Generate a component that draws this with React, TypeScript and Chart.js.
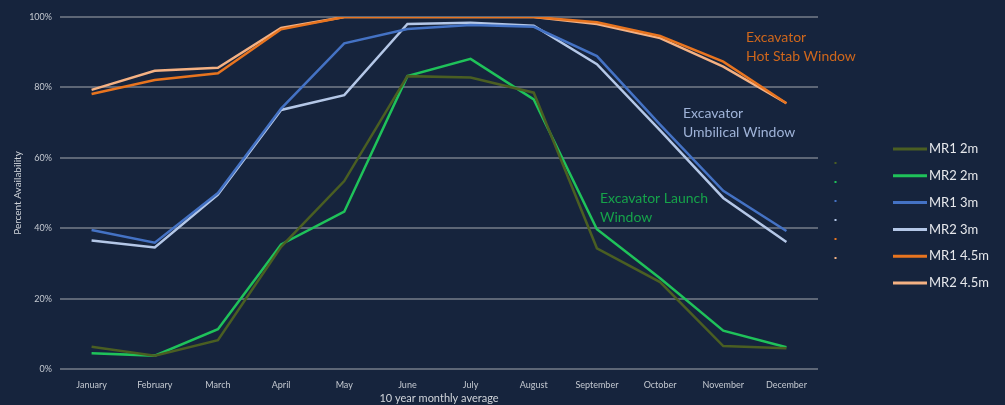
import React, { useEffect, useRef } from "react";
import { Chart, registerables } from "chart.js";

Chart.register(...registerables);

const months = ["January", "February", "March", "April", "May", "June", "July", "August", "September", "October", "November", "December"];
const seriesNames = ["MR1 2m", "MR2 2m", "MR1 3m", "MR2 3m", "MR1 4.5m", "MR2 4.5m"];
const mr1_2m = [6.3, 3.8, 8.2, 34.7, 53.4, 83.2, 82.8, 78.5, 34.3, 24.7, 6.5, 5.9];
const mr2_2m = [4.5, 3.8, 11.3, 35.4, 44.7, 83.2, 88.1, 76.6, 39.7, 25.8, 10.9, 6.2];
const mr1_3m = [39.5, 35.9, 50.0, 74.0, 92.5, 96.6, 97.7, 97.2, 88.9, 69.4, 50.6, 39.2];
const mr2_3m = [36.5, 34.5, 49.5, 73.6, 77.8, 98.0, 98.4, 97.5, 86.6, 67.8, 48.6, 36.1];
const mr1_45m = [78.1, 82.1, 84.0, 96.5, 100, 100, 100, 100, 98.5, 94.6, 87.3, 75.5];
const mr2_45m = [79.3, 84.7, 85.6, 96.9, 100, 100, 100, 100, 98.0, 94.0, 85.9, 75.5];
const yTicks = [0, 20, 40, 60, 80, 100];
const colors = ["#4a5e22", "#1fc25a", "#4472c4", "#b4c7e7", "#e8741f", "#f4b183"];
const annotations = [
  { lines: ["Excavator", "Hot Stab Window"], color: "#cf671c", x: 746, y: 37 },
  { lines: ["Excavator", "Umbilical Window"], color: "#9fb3d8", x: 683, y: 113 },
  { lines: ["Excavator Launch", "Window"], color: "#16a34a", x: 600, y: 198 },
];

const FONT = "Lato, 'Open Sans', sans-serif";

const bgPlugin = {
  id: "bg",
  beforeDraw(chart: any) {
    const { ctx, width, height } = chart;
    ctx.save();
    ctx.fillStyle = "#16243d";
    ctx.fillRect(0, 0, width, height);
    ctx.restore();
  },
};

const overlayPlugin = {
  id: "overlay",
  afterDraw(chart: any) {
    const ctx = chart.ctx;
    ctx.save();
    ctx.textBaseline = "middle";
    ctx.textAlign = "left";
    ctx.font = `14px ${FONT}`;
    annotations.forEach((a) => {
      ctx.fillStyle = a.color;
      a.lines.forEach((l, i) => ctx.fillText(l, a.x, a.y + i * 19));
    });
    ctx.font = `13px ${FONT}`;
    chart.data.datasets.forEach((ds: any, i: number) => {
      const y = 149 + i * 26.8;
      ctx.strokeStyle = ds.borderColor;
      ctx.lineWidth = 3;
      ctx.beginPath();
      ctx.moveTo(893, y);
      ctx.lineTo(927, y);
      ctx.stroke();
      ctx.fillStyle = "#e6e8ec";
      ctx.fillText(ds.label, 929, y);
      ctx.fillStyle = ds.borderColor;
      ctx.fillRect(834.5, 162 + i * 19, 2, 2);
    });
    ctx.restore();
  },
};

export default function App() {
  const ref = useRef<HTMLCanvasElement>(null);
  useEffect(() => {
    document.body.style.margin = "0";
    const data = [mr1_2m, mr2_2m, mr1_3m, mr2_3m, mr1_45m, mr2_45m];
    const chart = new Chart(ref.current!, {
      type: "line",
      data: {
        labels: months,
        datasets: data.map((d, i) => ({
          label: seriesNames[i],
          data: d,
          borderColor: colors[i],
          backgroundColor: colors[i],
          borderWidth: 2.5,
          pointRadius: 0,
          tension: 0,
        })),
      },
      options: {
        responsive: false,
        animation: false,
        layout: { padding: { left: 0, right: 187, top: 17, bottom: 0 } },
        plugins: { legend: { display: false }, tooltip: { enabled: false } },
        scales: {
          x: {
            offset: true,
            grid: { display: false },
            border: { display: false },
            ticks: { color: "#c4c9d1", font: { family: FONT, size: 9 }, padding: 3, maxRotation: 0, autoSkip: false },
            title: { display: true, text: "10 year monthly average", color: "#d0d4da", font: { family: FONT, size: 11 }, padding: { top: 2, bottom: 0 } },
            afterFit(scale: any) {
              scale.height = 36;
            },
          },
          y: {
            min: 0,
            max: 100,
            afterBuildTicks(scale: any) {
              scale.ticks = yTicks.map((v) => ({ value: v }));
            },
            grid: { color: "#5d6676", lineWidth: 2, drawTicks: false },
            border: { display: false },
            ticks: { color: "#c4c9d1", font: { family: FONT, size: 9 }, padding: 8, callback: (v: any) => v + "%" },
            title: { display: true, text: "Percent Availability", color: "#d0d4da", font: { family: FONT, size: 10 }, padding: { top: 12, bottom: 0 } },
            afterFit(scale: any) {
              scale.width = 60;
            },
          },
        },
      },
      plugins: [bgPlugin, overlayPlugin],
    });
    return () => chart.destroy();
  }, []);
  return <canvas ref={ref} width={1005} height={405} style={{ display: "block" }} />;
}
